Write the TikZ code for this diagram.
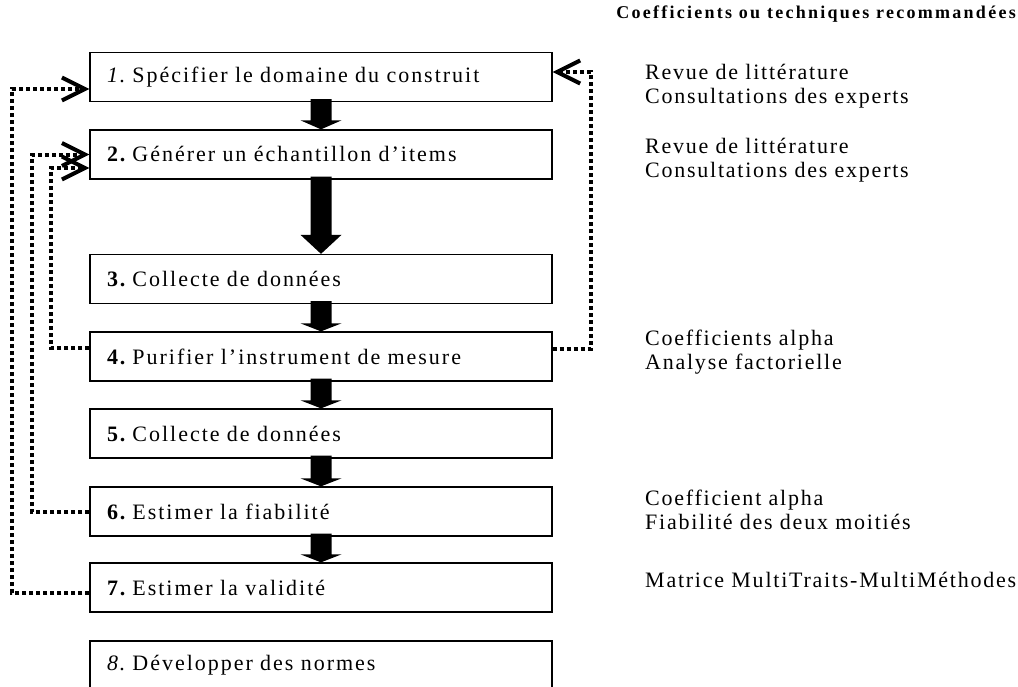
\documentclass[tikz,border=0pt]{standalone}
\usepackage{fontspec}
\setmainfont{Liberation Serif}[LetterSpace=8]
\newfontfamily\boxfont{Liberation Serif}[LetterSpace=9]
\newfontfamily\hdrfont{Liberation Serif}[LetterSpace=12.6]
\usetikzlibrary{arrows.meta,calc}
\newcommand\blockarr[3]{%
  \fill ($(#1.south)+(-10.5,-3)$) -- ($(#2.north)+(-10.5,-#3)$) -- ($(#2.north)+(-20.5,-#3)$) -- (#2.north) -- ($(#2.north)+(20.5,-#3)$) -- ($(#2.north)+(10.5,-#3)$) -- ($(#1.south)+(10.5,-3)$) -- cycle;}
\newcommand\numsp{\hspace{5pt}}
\begin{document}
\begin{tikzpicture}[x=1pt,y=-1pt,
  box/.style={draw, line width=1.3pt, minimum width=462pt, minimum height=49pt, text width=428pt, inner xsep=17pt, align=left, font=\boxfont\fontsize{22}{26}\selectfont},
  fb/.style={line width=4pt, dash pattern=on 4pt off 3pt},
  barb/.style={-{Straight Barb[length=23pt,width=23pt,line width=4pt]}},
  side/.style={anchor=west, inner sep=0pt, align=left, font=\fontsize{22}{24}\selectfont}]
\useasboundingbox (0,0) rectangle (1018,686);
\clip (0,0) rectangle (1018,686);

\node[box] (b1) at (321,77) {\textit{1.}\numsp Spécifier le domaine du construit};
\node[box] (b2) at (321,154.5) {\textbf{2.}\numsp Générer un échantillon d’items};
\node[box] (b3) at (321,279) {\textbf{3.}\numsp Collecte de données};
\node[box] (b4) at (321,356.5) {\textbf{4.}\numsp Purifier l’instrument de mesure};
\node[box] (b5) at (321,433.5) {\textbf{5.}\numsp Collecte de données};
\node[box] (b6) at (321,511.5) {\textbf{6.}\numsp Estimer la fiabilité};
\node[box] (b7) at (321,587.5) {\textbf{7.}\numsp Estimer la validité};
\node[box] (b8) at (321,665.5) {\textit{8.}\numsp Développer des normes};

\blockarr{b1}{b2}{9}
\blockarr{b2}{b3}{19}
\blockarr{b3}{b4}{8}
\blockarr{b4}{b5}{8}
\blockarr{b5}{b6}{8}
\blockarr{b6}{b7}{8}

\draw[fb,barb] ([yshift=-5.5pt]b7.west) -- ++(-77,0) |- ([yshift=-12pt]b1.west);
\draw[fb,barb] ([yshift=-0.5pt]b6.west) -- ++(-57,0) |- (b2.west);
\draw[fb,barb] ([yshift=8.5pt]b4.west) -- ++(-38,0) |- ([yshift=-13.5pt]b2.west);
\draw[fb,barb] ([yshift=7.5pt]b4.east) -- ++(38,0) |- ([yshift=5pt]b1.east);

\node[anchor=east, inner sep=0pt, font=\hdrfont\bfseries\fontsize{18}{20}\selectfont] (hdr) at (1016,14) {Coefficients ou techniques recommandées};
\node[side] (s1) at (645,86) {Revue de littérature\\Consultations des experts};
\node[side] (s2) at (645,160) {Revue de littérature\\Consultations des experts};
\node[side] (s4) at (645,352) {Coefficients alpha\\Analyse factorielle};
\node[side] (s6) at (645,510) {Coefficient alpha\\Fiabilité des deux moitiés};
\node[side] (s7) at (645,580) {Matrice MultiTraits-MultiMéthodes};
\end{tikzpicture}
\end{document}
